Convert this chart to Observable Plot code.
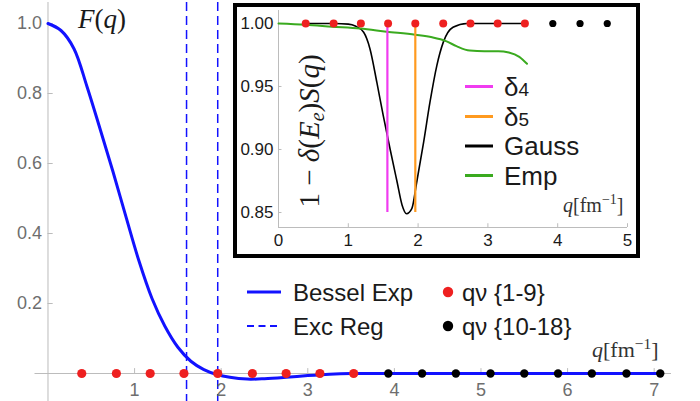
<!DOCTYPE html>
<html><head><meta charset="utf-8">
<script src="https://cdn.jsdelivr.net/npm/d3@7"></script>
<script src="https://cdn.jsdelivr.net/npm/@observablehq/plot@0.6"></script>
<style>
body{margin:0;background:#fff;}
#wrap{position:relative;width:700px;height:401px;overflow:hidden;}
#wrap svg{position:absolute;left:0;top:0;}
#inset{position:absolute;left:233px;top:3px;width:407px;height:255px;border:4px solid #000;box-sizing:border-box;background:#fff;}
</style></head><body><div id="wrap"><div id="main"></div><div id="inset"></div></div>
<script>
// ---------- data ----------
// main panel: Bessel expansion of the form factor F(q)
const besselQ = [0, 0.15, 0.3, 0.45, 0.6, 0.75, 0.9, 1.05, 1.2, 1.35, 1.5, 1.65, 1.8, 1.95, 2.1, 2.3, 2.5, 2.75, 3.0, 3.25, 3.5, 4.0, 5.0, 6.0, 7.07];
const besselF = [1.0, 0.98, 0.928, 0.82, 0.70, 0.577, 0.448, 0.322, 0.215, 0.135, 0.075, 0.035, 0.011, -0.003, -0.011, -0.016, -0.015, -0.011, -0.006, -0.002, 0, 0, 0, 0, 0];
const excReg = [1.6, 1.96];
const qvRed = [0.39, 0.79, 1.18, 1.57, 1.96, 2.36, 2.75, 3.14, 3.53];
const qvBlack = [3.93, 4.32, 4.71, 5.11, 5.50, 5.89, 6.28, 6.68, 7.07];
const xTicks = [1, 2, 3, 4, 5, 6, 7];
const yTicks = [0.2, 0.4, 0.6, 0.8, 1.0];
// inset: 1 - delta(Ee) S(q)
const gaussQ = [0.39, 0.8, 1.0, 1.1, 1.22, 1.31, 1.41, 1.5, 1.6, 1.7, 1.77, 1.835, 1.91, 1.98, 2.08, 2.17, 2.27, 2.36, 2.5, 2.7, 3.0, 3.53];
const gaussY = [1.0, 1.0, 0.9995, 0.998, 0.993, 0.98, 0.953, 0.927, 0.90, 0.874, 0.856, 0.849, 0.853, 0.874, 0.906, 0.9375, 0.967, 0.985, 0.997, 1.0, 1.0, 1.0];
const empQ = [0, 0.39, 0.77, 1.17, 1.55, 1.96, 2.2, 2.4, 2.55, 2.74, 2.95, 3.15, 3.3, 3.45, 3.56];
const empY = [1.0, 0.999, 0.9975, 0.996, 0.9935, 0.991, 0.989, 0.986, 0.982, 0.9785, 0.978, 0.978, 0.977, 0.9735, 0.968];
const delta4 = [1.56];
const delta5 = [1.96];
const deltaRange = [0.85, 1.0];
const insetXTicks = [0, 1, 2, 3, 4, 5];
const insetYTicks = [0.85, 0.90, 0.95, 1.00];

// ---------- colours ----------
const BLUE = "#1212ff", RED = "#ee2020", MAG = "#f03cf0", ORA = "#ff9a1f", GRN = "#3aaa1f";
const AX = "#bcbcbc";
const FONT = "'Liberation Sans', Arial, sans-serif";

const bessel = besselQ.map((q, i) => ({q, F: besselF[i]}));
const gauss = gaussQ.map((q, i) => ({q, y: gaussY[i]}));
const emp = empQ.map((q, i) => ({q, y: empY[i]}));

// ---------- main panel ----------
const mainPlot = Plot.plot({
  width: 700, height: 401,
  marginLeft: 34.5, marginRight: 29, marginTop: 2, marginBottom: 0,
  x: {domain: [-0.15, 7.2], axis: null},
  y: {domain: [-0.08, 1.06], axis: null},
  style: {fontFamily: FONT, background: "transparent", overflow: "visible"},
  marks: [
    Plot.ruleX(excReg, {stroke: BLUE, strokeWidth: 1.5, strokeDasharray: "9,5"}),
    Plot.ruleY([0], {stroke: AX, strokeWidth: 1}),
    Plot.ruleX([0], {stroke: AX, strokeWidth: 1}),
    Plot.ruleX(xTicks, {y1: 0, y2: 0.014, stroke: AX}),
    Plot.ruleY(yTicks, {x1: 0, x2: 0.06, stroke: AX}),
    Plot.line(bessel, {x: "q", y: "F", stroke: BLUE, strokeWidth: 3, curve: "catmull-rom"}),
    Plot.dot(qvRed, {x: d => d, y: 0, r: 4.6, fill: RED}),
    Plot.dot(qvBlack, {x: d => d, y: 0, r: 4.2, fill: "#000"}),
    Plot.text(xTicks, {x: d => d, y: 0, dy: 17, text: d => String(d), fill: "#6e6e6e", fontSize: 18}),
    Plot.text(yTicks, {x: 0, y: d => d, dx: -6, textAnchor: "end", text: d => d.toFixed(1), fill: "#6e6e6e", fontSize: 18})
  ]
});
document.getElementById("main").appendChild(mainPlot);

// ---------- inset panel ----------
const yMin = 0.8381;
const insetPlot = Plot.plot({
  width: 399, height: 247,
  marginLeft: 41, marginRight: 9, marginTop: 3, marginBottom: 27,
  x: {domain: [0, 5], axis: null},
  y: {domain: [yMin, 1.0103], axis: null},
  style: {fontFamily: FONT, background: "transparent", overflow: "visible"},
  marks: [
    Plot.ruleX([0], {stroke: AX}),
    Plot.ruleY([yMin], {stroke: AX}),
    Plot.ruleX(insetXTicks, {y1: yMin, y2: yMin + 0.003, stroke: AX}),
    Plot.ruleY(insetYTicks, {x1: 0, x2: 0.05, stroke: AX}),
    Plot.line(gauss, {x: "q", y: "y", stroke: "#000", strokeWidth: 1.6, curve: "monotone-x"}),
    Plot.line(emp, {x: "q", y: "y", stroke: GRN, strokeWidth: 2, curve: "monotone-x"}),
    Plot.ruleX(delta4, {y1: deltaRange[0], y2: deltaRange[1], stroke: MAG, strokeWidth: 2.2}),
    Plot.ruleX(delta5, {y1: deltaRange[0], y2: deltaRange[1], stroke: ORA, strokeWidth: 2.2}),
    Plot.dot(qvRed, {x: d => d, y: 1.0, r: 4, fill: RED}),
    Plot.dot(qvBlack.filter(d => d <= 5), {x: d => d, y: 1.0, r: 3.6, fill: "#000"}),
    Plot.text(insetXTicks, {x: d => d, y: yMin, dy: 13, text: d => String(d), fill: "#1a1a1a", fontSize: 17}),
    Plot.text(insetYTicks, {x: 0, y: d => d, dx: -5, textAnchor: "end", text: d => d.toFixed(2), fill: "#1a1a1a", fontSize: 17})
  ]
});
document.getElementById("inset").appendChild(insetPlot);

// ---------- legends & axis labels overlay ----------
const svg = d3.select("#wrap").append("svg")
  .attr("width", 700).attr("height", 401).style("pointer-events", "none");
const TXT = "#1a1a1a";

// main legend
const lg = svg.append("g").attr("font-family", FONT).attr("font-size", 24).attr("fill", TXT);
lg.append("line").attr("x1", 247).attr("x2", 281).attr("y1", 292).attr("y2", 292).attr("stroke", BLUE).attr("stroke-width", 3);
lg.append("line").attr("x1", 247).attr("x2", 281).attr("y1", 326).attr("y2", 326).attr("stroke", BLUE).attr("stroke-width", 2).attr("stroke-dasharray", "7,4.5");
lg.append("text").attr("x", 293).attr("y", 300.6).text("Bessel Exp");
lg.append("text").attr("x", 293).attr("y", 334.6).text("Exc Reg");
lg.append("circle").attr("cx", 448).attr("cy", 292).attr("r", 5.2).attr("fill", RED);
lg.append("circle").attr("cx", 448).attr("cy", 326).attr("r", 5.2).attr("fill", "#000");
lg.append("text").attr("x", 462).attr("y", 300.6).text("qν {1-9}");
lg.append("text").attr("x", 462).attr("y", 334.6).text("qν {10-18}");

// inset legend
const il = svg.append("g").attr("font-family", FONT).attr("font-size", 26).attr("fill", TXT);
const items = [["δ", "4", MAG, 86.5], ["δ", "5", ORA, 116.5], ["Gauss", "", "#000", 146], ["Emp", "", GRN, 175.5]];
items.forEach(([a, b, c, y]) => {
  il.append("line").attr("x1", 465).attr("x2", 493).attr("y1", y).attr("y2", y).attr("stroke", c).attr("stroke-width", 3);
  const t = il.append("text").attr("x", 504).attr("y", y + 9.3);
  t.append("tspan").text(a);
  if (b) t.append("tspan").attr("font-size", 19).text(b);
});

// axis labels (serif math)
const SERIF = "'Liberation Serif', 'Times New Roman', serif";
const fq = svg.append("text").attr("x", 78).attr("y", 28).attr("font-family", SERIF).attr("font-size", 27).attr("fill", TXT);
fq.append("tspan").attr("font-style", "italic").text("F");
fq.append("tspan").text("(");
fq.append("tspan").attr("font-style", "italic").text("q");
fq.append("tspan").text(")");

function qUnit(x, y, size) {
  const t = svg.append("text").attr("x", x).attr("y", y).attr("font-family", SERIF).attr("font-size", size).attr("fill", "#333");
  t.append("tspan").attr("font-style", "italic").text("q");
  t.append("tspan").text("[fm");
  t.append("tspan").attr("font-size", size * 0.7).attr("dy", -size * 0.38).text("−1");
  t.append("tspan").attr("dy", size * 0.38).text("]");
}
qUnit(592, 357, 22);
qUnit(563, 212, 20);

const yl = svg.append("text").attr("transform", "translate(319,131) rotate(-90)")
  .attr("text-anchor", "middle").attr("font-family", SERIF).attr("font-size", 29).attr("fill", TXT);
yl.append("tspan").text("1 − ");
yl.append("tspan").attr("font-style", "italic").text("δ");
yl.append("tspan").text("(");
yl.append("tspan").attr("font-style", "italic").text("E");
yl.append("tspan").attr("font-style", "italic").attr("font-size", 20).attr("dy", 5).text("e");
yl.append("tspan").attr("dy", -5).text(")");
yl.append("tspan").attr("font-style", "italic").text("S");
yl.append("tspan").text("(");
yl.append("tspan").attr("font-style", "italic").text("q");
yl.append("tspan").text(")");
</script></body></html>
